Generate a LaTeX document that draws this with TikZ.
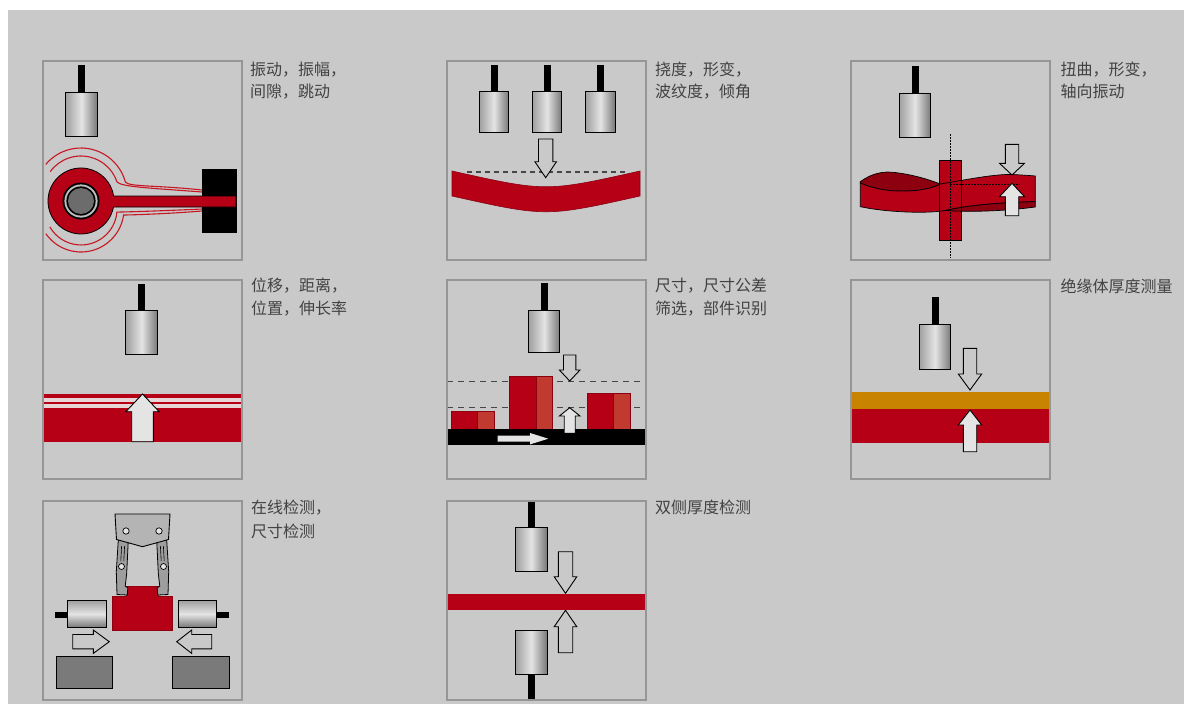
\documentclass[tikz,border=0pt]{standalone}
\usepackage{fontspec}
\newfontfamily\cjk{Noto Sans CJK SC}
\definecolor{bg}{RGB}{201,201,201}
\definecolor{frame}{RGB}{150,150,150}
\definecolor{part}{RGB}{182,0,22}
\definecolor{partdark}{RGB}{140,0,16}
\definecolor{brick}{RGB}{192,58,48}
\definecolor{amber}{RGB}{200,132,0}
\definecolor{txt}{RGB}{66,66,66}
\definecolor{pale}{RGB}{228,228,228}
\definecolor{stripe}{RGB}{232,214,214}
\definecolor{wire}{RGB}{200,22,34}
\definecolor{block}{RGB}{122,122,122}
\definecolor{metal}{RGB}{180,180,180}
\definecolor{metaldark}{RGB}{158,158,158}
\definecolor{shadeA}{RGB}{160,160,160}
\definecolor{shadeB}{RGB}{228,228,228}
\definecolor{shadeC}{RGB}{120,120,120}
\definecolor{ringlight}{RGB}{190,190,190}
\definecolor{hub}{RGB}{108,108,108}
\definecolor{dash}{RGB}{70,70,70}

% vertical probe: centre x, stem top, body top, body bottom, half width
\newcommand{\probeV}[5]{%
  \fill[black] ({#1-3.5},#2) rectangle ({#1+3.5},#3);
  \draw[probebody] ({#1-#5},#3) rectangle ({#1+#5},#4);}
% vertical block arrow: centre x, tail y, head base y, tip y, half shaft, half head, style
\newcommand{\arrowV}[7]{%
  \draw[#7] ({#1-#5},#2) -- ({#1+#5},#2) -- ({#1+#5},#3) -- ({#1+#6},#3)
    -- (#1,#4) -- ({#1-#6},#3) -- ({#1-#5},#3) -- cycle;}
% horizontal block arrow: centre y, tail x, head base x, tip x, half shaft, half head, style
\newcommand{\arrowH}[7]{%
  \draw[#7] (#2,{#1-#5}) -- (#3,{#1-#5}) -- (#3,{#1-#6}) -- (#4,#1)
    -- (#3,{#1+#6}) -- (#3,{#1+#5}) -- (#2,{#1+#5}) -- cycle;}
% one gripper finger
\newcommand{\gripfinger}{%
  \draw[finger] (118.3,540) -- (128.3,540) -- (126.7,573.3) -- (125.2,586.5)
    -- (127.8,587.5) -- (127.3,595) -- (117,594.5) -- (116.3,571.7) -- cycle;
  \draw[line width=0.6pt] (121.6,546) -- (120.8,561) (124.6,546) -- (123.8,561);
  \draw[fill=pale, line width=0.7pt] (121.5,566.5) circle (3);}

\begin{document}
\begin{tikzpicture}[x=1pt, y=-1pt,
  probebody/.style={draw=black, line width=0.9pt,
    left color=shadeA, right color=shadeC, middle color=shadeB},
  hprobe/.style={draw=black, line width=0.9pt,
    top color=shadeA, bottom color=shadeC, middle color=shadeB},
  hollow/.style={draw=black, line width=0.9pt, fill=bg},
  solid/.style={draw=black, line width=0.9pt, fill=pale},
  wireline/.style={draw=wire, line width=1.1pt},
  guide/.style={draw=dash, line width=1.1pt, dash pattern=on 5pt off 4pt},
  axisline/.style={draw=black, line width=0.8pt, dash pattern=on 1.5pt off 1.5pt},
  partbox/.style={draw=partdark, line width=0.6pt},
  ribbon/.style={draw=black, line width=0.7pt},
  finger/.style={draw=black, line width=0.8pt, fill=metaldark},
  panel/.style={draw=frame, line width=1.2pt},
  lbl/.style={font=\cjk\fontsize{16}{20}\selectfont, text=txt, anchor=base west, inner sep=0pt}]

\useasboundingbox (0,0) rectangle (1184,704);
\fill[white] (0,0) rectangle (1184,704);
\fill[bg] (8,10) rectangle (1184,704);

% ---------- vibration of a rod end ----------
\probeV{81.5}{65}{92}{136}{16}
\draw[wireline] (202,192) .. controls (150,188) and (122,187) .. (117,182)
  arc[start angle=-18.4, end angle=-144, radius=38];
\draw[wireline] (202,190) .. controls (155,185) and (130,187) .. (125.4,182.1)
  arc[start angle=-15, end angle=-140, radius=46];
\draw[wireline] (202,209) .. controls (160,211) and (125,212) .. (116.9,212.1)
  arc[start angle=5, end angle=150, radius=36];
\draw[wireline] (202,211) .. controls (165,214) and (130,215) .. (123.6,215)
  arc[start angle=8, end angle=145, radius=43];
\fill[black] (202,169) rectangle (237,233);
\draw[fill=part, draw=black, line width=0.8pt] (113.6,196) -- (236,196) -- (236,207) -- (113.45,207)
  arc[start angle=10.5, end angle=351.3, radius=33] -- cycle;
\fill[black] (81,201) circle (18.5);
\fill[ringlight] (81,201) circle (16.6);
\fill[black] (81,201) circle (14.6);
\fill[hub] (81,201) circle (13);

% ---------- bending of a beam ----------
\probeV{494}{65}{91}{132}{14.6}
\probeV{547}{65}{91}{132}{14.6}
\probeV{600.5}{65}{91}{132}{14.6}
\draw[fill=part, draw=partdark, line width=0.6pt] (452,171) .. controls (546,192) .. (640,171)
  -- (640,196) .. controls (546,217) .. (452,196) -- cycle;
\draw[guide] (467,172) -- (627,172);
\arrowV{545.7}{139}{161.7}{177.7}{7.2}{10.8}{hollow}

% ---------- torsion of a shaft ----------
\probeV{915}{66}{93}{137}{15.8}
\fill[part] (939.3,160.7) rectangle (961.3,240.7);
% upper back face of the twisted strip
\draw[ribbon, fill=partdark] (860.3,181.7) .. controls (872,173) and (884,171) .. (895,172.5)
  .. controls (915,175) and (930,180) .. (940.3,184)
  .. controls (925,192) and (900,192) .. (885.3,190)
  .. controls (872,188) and (865,185) .. (860.3,183) -- cycle;
% front face
\draw[ribbon, fill=part] (860.3,183) .. controls (865,185) and (872,188) .. (885.3,190)
  .. controls (900,192) and (925,192) .. (940.3,184)
  .. controls (970,179) and (995,174) .. (1012,174.5)
  .. controls (1022,175) and (1030,175.5) .. (1035.3,176)
  -- (1035.3,201.7)
  .. controls (1000,202.5) and (970,205) .. (945,210.5)
  .. controls (925,214) and (885,212) .. (860.3,206.7) -- cycle;
% lower back face
\draw[ribbon, fill=partdark] (945,210.5) .. controls (970,205) and (1000,202.5) .. (1035.3,201.7)
  -- (1035.3,207) .. controls (1010,210.5) and (975,212.5) .. (945,210.5) -- cycle;
\draw[ribbon] (939.3,160.7) rectangle (961.3,240.7);
\draw[axisline] (950.3,134.3) -- (950.3,258.3);
\draw[axisline] (950.3,184.3) -- (1020,184.3);
\arrowV{1012}{144.3}{163.3}{175}{6.7}{12.5}{hollow}
\arrowV{1012}{215.7}{196.7}{183.3}{6.7}{12.5}{solid}

% ---------- displacement ----------
\probeV{141.7}{284}{310.7}{354}{15.8}
\fill[part] (43,394) rectangle (242,441.7);
\fill[stripe] (43,398.3) rectangle (242,401.7);
\fill[stripe] (43,404) rectangle (242,408.3);
\arrowV{142.5}{441.7}{411.7}{394}{10.8}{16.7}{solid}

% ---------- sorting by size ----------
\probeV{544.3}{283.3}{310}{352.7}{15.5}
\draw[guide, dash pattern=on 6pt off 5pt] (447,381.7) -- (646,381.7);
\draw[guide, dash pattern=on 6pt off 5pt] (447,407.3) -- (646,407.3);
\draw[partbox, fill=part] (451.7,411.7) rectangle (477.7,429.3);
\draw[partbox, fill=brick] (477.7,411.7) rectangle (494.3,429.3);
\draw[partbox, fill=part] (509.3,376) rectangle (536,429.3);
\draw[partbox, fill=brick] (536,376) rectangle (552.7,429.3);
\draw[partbox, fill=part] (587.3,393.3) rectangle (613.7,429.3);
\draw[partbox, fill=brick] (613.7,393.3) rectangle (630.7,429.3);
\fill[black] (447.3,429.3) rectangle (645.5,445);
\arrowH{438.7}{497.7}{530}{548.3}{3}{5.7}{fill=pale, draw=none}
\arrowV{569.7}{355}{370}{381}{6.2}{10.3}{hollow}
\arrowV{569.7}{433.3}{416}{407.7}{5.5}{10.3}{solid}

% ---------- insulation thickness ----------
\probeV{935}{296.7}{324}{369}{15.8}
\fill[amber] (851,391.7) rectangle (1050,409.3);
\fill[part] (851,409.3) rectangle (1050,443.3);
\arrowV{970}{348.3}{374}{390}{6.7}{11.7}{hollow}
\arrowV{970}{451.7}{425}{410}{6.7}{11.7}{solid}

% ---------- in-line gauging with gripper ----------
\draw[fill=block, draw=black, line width=0.9pt] (56,656.7) rectangle (112.7,688.3);
\draw[fill=block, draw=black, line width=0.9pt] (172.7,656.7) rectangle (229.3,688.3);
\arrowH{641.7}{72.7}{93.3}{109.3}{7.2}{11.7}{hollow}
\arrowH{641.7}{211.7}{191.7}{176.7}{7.2}{11.7}{hollow}
\fill[black] (55,611.7) rectangle (67.7,618.3);
\draw[hprobe] (67.7,600.7) rectangle (106.7,627.3);
\fill[black] (216.7,611.7) rectangle (229.3,618.3);
\draw[hprobe] (178.3,600.7) rectangle (216.7,627.3);
\draw[fill=part, draw=partdark, line width=0.7pt] (126.7,586.7) -- (158.3,586.7) -- (158.3,596)
  -- (172.7,596) -- (172.7,630) -- (112.7,630) -- (112.7,596) -- (126.7,596) -- cycle;
\gripfinger
\begin{scope}[xshift=285pt, xscale=-1]
  \gripfinger
\end{scope}
\draw[fill=metal, draw=black, line width=0.9pt] (115,514) -- (170,514) -- (168.5,539.5)
  -- (142.5,546.7) -- (116.5,539.5) -- cycle;
\draw[fill=pale, line width=0.7pt] (126,531) circle (3.2);
\draw[fill=pale, line width=0.7pt] (159,531) circle (3.2);

% ---------- two-sided thickness ----------
\probeV{531.3}{501}{527.7}{571.7}{15.8}
\fill[part] (447,594) rectangle (646,610);
\arrowV{565.5}{551.7}{576.7}{593.3}{7.2}{11.3}{hollow}
\arrowV{565.5}{652.7}{626.7}{610.3}{7.2}{11.3}{hollow}
\fill[black] (527.8,674) rectangle (534.8,700.7);
\draw[probebody] (515.5,630.7) rectangle (547.1,674);

% ---------- frames ----------
\foreach \px/\py in {43/61, 447/61, 851/61, 43/280, 447/280, 851/280, 43/501, 447/501}
  \draw[panel] (\px,\py) rectangle ++(199,199);

% ---------- captions ----------
\node[lbl] (c1a) at (250,75) {振动，振幅，};
\node[lbl] (c1b) at (250,97) {间隙，跳动};
\node[lbl] (c2a) at (655,75) {挠度，形变，};
\node[lbl] (c2b) at (655,97) {波纹度，倾角};
\node[lbl] (c3a) at (1060.5,75) {扭曲，形变，};
\node[lbl] (c3b) at (1060.5,97) {轴向振动};
\node[lbl] (c4a) at (251,291) {位移，距离，};
\node[lbl] (c4b) at (251,314) {位置，伸长率};
\node[lbl] (c5a) at (655,291) {尺寸，尺寸公差};
\node[lbl] (c5b) at (655,314) {筛选，部件识别};
\node[lbl] (c6a) at (1060.5,292) {绝缘体厚度测量};
\node[lbl] (c7a) at (251,513) {在线检测，};
\node[lbl] (c7b) at (251,537) {尺寸检测};
\node[lbl] (c8a) at (655,513) {双侧厚度检测};
\end{tikzpicture}
\end{document}
